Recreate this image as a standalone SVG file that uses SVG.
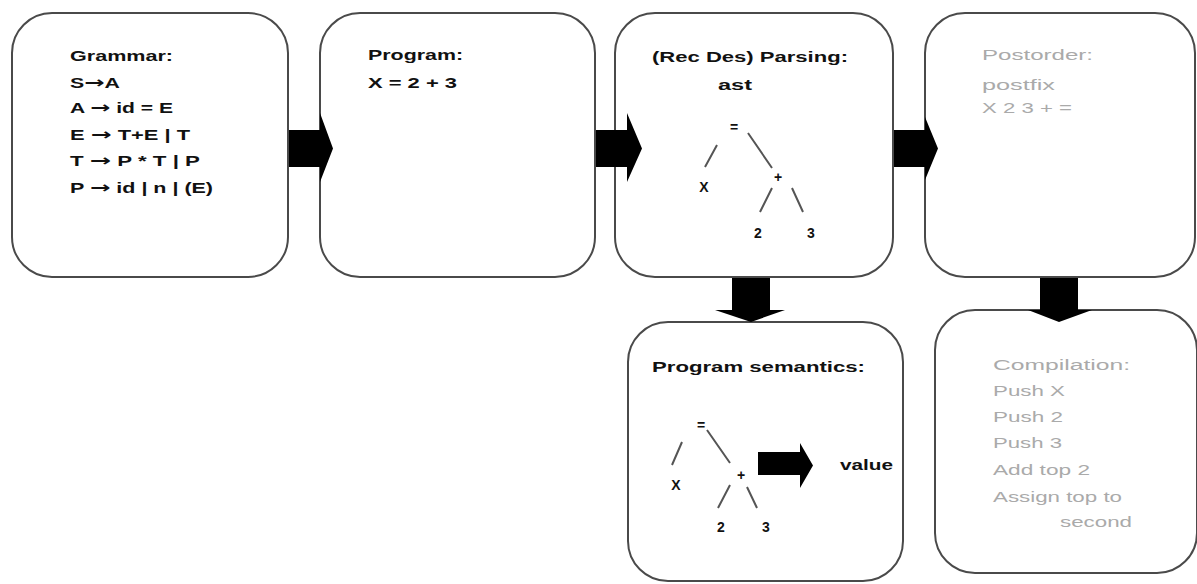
<svg xmlns="http://www.w3.org/2000/svg" width="1197" height="584" viewBox="0 0 1197 584">
<style>
.box{fill:#fff;stroke:#4a4a4a;stroke-width:2}
.t{font-family:"Liberation Sans",Arial,sans-serif;font-size:14px;font-weight:bold;fill:#111}
.g{font-family:"Liberation Sans",Arial,sans-serif;font-size:14px;fill:#aaaaaa}
.a{font-family:"DejaVu Sans",sans-serif;font-size:16px;font-weight:bold}
.ln{stroke:#555;stroke-width:2;fill:none}
.arr{fill:#000}
</style>
<rect width="1197" height="584" fill="#fff"/>
<g id="grammar">
<rect class="box" x="12" y="13" width="276" height="264" rx="40"/>
<text class="t" x="70" y="61" textLength="103" lengthAdjust="spacingAndGlyphs">Grammar:</text>
<text class="t" x="70" y="88" textLength="50" lengthAdjust="spacingAndGlyphs">S<tspan class="a">→</tspan>A</text>
<text class="t" x="70" y="113" textLength="103" lengthAdjust="spacingAndGlyphs">A <tspan class="a">→</tspan> id = E</text>
<text class="t" x="70" y="140" textLength="120" lengthAdjust="spacingAndGlyphs">E <tspan class="a">→</tspan> T+E | T</text>
<text class="t" x="70" y="166" textLength="130" lengthAdjust="spacingAndGlyphs">T <tspan class="a">→</tspan> P * T | P</text>
<text class="t" x="70" y="193" textLength="143" lengthAdjust="spacingAndGlyphs">P <tspan class="a">→</tspan> id | n | (E)</text>
</g>
<g id="program">
<rect class="box" x="320" y="13" width="275" height="264" rx="40"/>
<text class="t" x="368" y="60" textLength="95" lengthAdjust="spacingAndGlyphs">Program:</text>
<text class="t" x="368" y="88" textLength="89" lengthAdjust="spacingAndGlyphs">X = 2 + 3</text>
</g>
<g id="parsing">
<rect class="box" x="615" y="13" width="278" height="264" rx="40"/>
<text class="t" x="652" y="62" textLength="196" lengthAdjust="spacingAndGlyphs">(Rec Des) Parsing:</text>
<text class="t" x="718" y="90" textLength="34" lengthAdjust="spacingAndGlyphs">ast</text>
<text class="t" x="734" y="132" text-anchor="middle">=</text>
<text class="t" x="704" y="192" text-anchor="middle">X</text>
<text class="t" x="778" y="182" text-anchor="middle">+</text>
<text class="t" x="758" y="238" text-anchor="middle">2</text>
<text class="t" x="811" y="238" text-anchor="middle">3</text>
<path class="ln" d="M717,145 L705,167 M748,133 L772,168 M772,188 L760,212 M792,188 L803,212"/>
</g>
<g id="postorder">
<rect class="box" x="925" y="13" width="270" height="264" rx="40"/>
<text class="g" x="982" y="60" textLength="111" lengthAdjust="spacingAndGlyphs">Postorder:</text>
<text class="g" x="982" y="90" textLength="73" lengthAdjust="spacingAndGlyphs">postfix</text>
<text class="g" x="982" y="113" textLength="90" lengthAdjust="spacingAndGlyphs">X 2 3 + =</text>
</g>
<g id="semantics">
<rect class="box" x="628" y="322" width="275" height="259" rx="40"/>
<text class="t" x="652" y="372" textLength="213" lengthAdjust="spacingAndGlyphs">Program semantics:</text>
<text class="t" x="701" y="430" text-anchor="middle">=</text>
<text class="t" x="676" y="490" text-anchor="middle">X</text>
<text class="t" x="741" y="480" text-anchor="middle">+</text>
<text class="t" x="721" y="532" text-anchor="middle">2</text>
<text class="t" x="766" y="532" text-anchor="middle">3</text>
<path class="ln" d="M682,442 L672,465 M707,430 L730,463 M730,485 L718,508 M747,487 L757,508"/>
<path class="arr" d="M758,452 H800 V443 L813,465.5 L800,488 V475 H758 Z"/>
<text class="t" x="840" y="470" textLength="53" lengthAdjust="spacingAndGlyphs">value</text>
</g>
<g id="compilation">
<rect class="box" x="935" y="310" width="262" height="263" rx="40"/>
<text class="g" x="993" y="370" textLength="137" lengthAdjust="spacingAndGlyphs">Compilation:</text>
<text class="g" x="993" y="396" textLength="72" lengthAdjust="spacingAndGlyphs">Push X</text>
<text class="g" x="993" y="422" textLength="70" lengthAdjust="spacingAndGlyphs">Push 2</text>
<text class="g" x="993" y="448" textLength="69" lengthAdjust="spacingAndGlyphs">Push 3</text>
<text class="g" x="993" y="475" textLength="97" lengthAdjust="spacingAndGlyphs">Add top 2</text>
<text class="g" x="993" y="502" textLength="129" lengthAdjust="spacingAndGlyphs">Assign top to</text>
<text class="g" x="1060" y="527" textLength="72" lengthAdjust="spacingAndGlyphs">second</text>
</g>
<g id="connectors">
<path class="arr" d="M289,130 H320 V113 L333,148.5 L320,182 V167 H289 Z"/>
<path class="arr" d="M596,130 H627 V113 L642,148.5 L627,182 V167 H596 Z"/>
<path class="arr" d="M894,130 H925 V117 L938,148.5 L925,180 V167 H894 Z"/>
<path class="arr" d="M732,278 V310 H715 L751,322 L785,310 H770 V278 Z"/>
<path class="arr" d="M1040,278 V310 H1028 L1059,322 L1092,310 H1078 V278 Z"/>
</g>
</svg>
